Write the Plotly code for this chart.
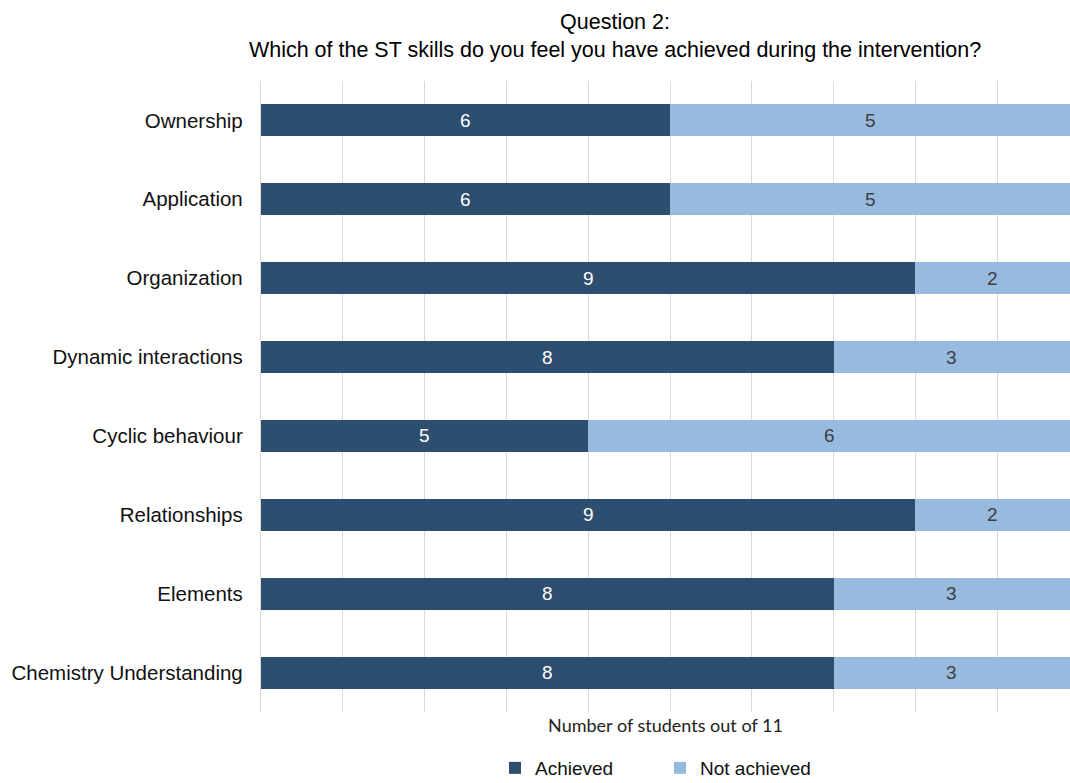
import plotly.graph_objects as go

categories = ["Ownership", "Application", "Organization", "Dynamic interactions",
              "Cyclic behaviour", "Relationships", "Elements", "Chemistry Understanding"]
achieved = [6, 6, 9, 8, 5, 9, 8, 8]
not_achieved = [5, 5, 2, 3, 6, 2, 3, 3]
series_names = ["Achieved", "Not achieved"]
axis_title = "Number of students out of 11"
title_lines = ["Question 2:",
               "Which of the ST skills do you feel you have achieved during the intervention?"]

DARK = "#2D4E6E"
LIGHT = "#97BADF"
X_MIN, X_MAX = 1, 10.89
FONT = "Liberation Sans, Arial, sans-serif"

fig = go.Figure()
fig.add_trace(go.Bar(y=categories, x=achieved, orientation="h", name=series_names[0],
                     marker=dict(color=DARK, line=dict(width=0))))
fig.add_trace(go.Bar(y=categories, x=not_achieved, orientation="h", name=series_names[1],
                     marker=dict(color=LIGHT, line=dict(width=0))))

annotations = []
for cat, a, n in zip(categories, achieved, not_achieved):
    lo = max(0, X_MIN)
    hi = min(a, X_MAX)
    annotations.append(dict(x=(lo + hi) / 2, y=cat, xref="x", yref="y", text=str(a),
                            showarrow=False, font=dict(family=FONT, size=19, color="white")))
    lo2 = max(a, X_MIN)
    hi2 = min(a + n, X_MAX)
    annotations.append(dict(x=(lo2 + hi2) / 2, y=cat, xref="x", yref="y", text=str(n),
                            showarrow=False, font=dict(family=FONT, size=19, color="#404040")))

fig.update_layout(
    width=1070, height=783,
    margin=dict(l=261, r=0, t=81, b=71),
    barmode="stack", bargap=0.594,
    plot_bgcolor="white", paper_bgcolor="white",
    font=dict(family=FONT, color="#000000"),
    title=dict(text="<br>".join(title_lines), x=(615 - 261) / 809, xref="paper",
               xanchor="center", y=1 - 29 / 783, yref="container", yanchor="top",
               font=dict(family=FONT, size=21.5, color="#000000")),
    xaxis=dict(range=[X_MIN, X_MAX], dtick=1, tick0=0, showgrid=True, gridcolor="#d9d9d9",
               gridwidth=1.3, showticklabels=False, zeroline=False, ticks="",
               title=dict(text=axis_title, standoff=7,
                          font=dict(family="Lato, sans-serif", size=18, color="#222222"))),
    yaxis=dict(categoryorder="array", categoryarray=categories, autorange="reversed",
               ticks="", showgrid=False, showline=True, linecolor="#d9d9d9", linewidth=1.3,
               ticklabelstandoff=13,
               tickfont=dict(family=FONT, size=20.5, color="#111111")),
    legend=dict(orientation="h", x=(660 - 261) / 809, xanchor="center",
                yref="container", y=(783 - 768) / 783, yanchor="middle", traceorder="normal",
                itemwidth=30, entrywidth=120,
                font=dict(family=FONT, size=19, color="#111111")),
    annotations=annotations,
)

fig.write_html("out.html")
